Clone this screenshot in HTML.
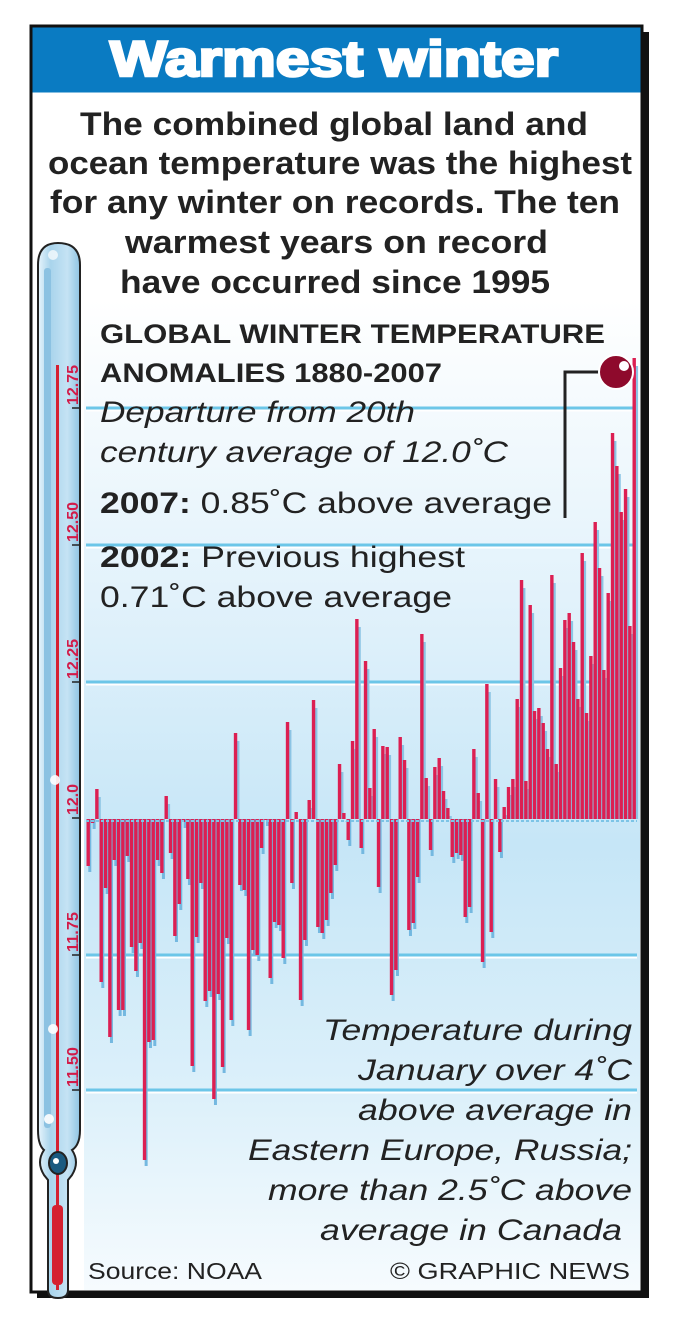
<!DOCTYPE html>
<html><head><meta charset="utf-8"><style>
html,body{margin:0;padding:0;background:#fff;}
svg{display:block;}
text{font-family:"Liberation Sans",Arial,sans-serif;}
</style></head><body>
<svg id="s" width="673" height="1323" viewBox="0 0 673 1323" xmlns="http://www.w3.org/2000/svg">
<defs>
<linearGradient id="bg" x1="0" y1="0" x2="0" y2="1">
<stop offset="0" stop-color="#ffffff"/>
<stop offset="0.3" stop-color="#e2f2fb"/>
<stop offset="0.55" stop-color="#c6e6f7"/>
<stop offset="0.8" stop-color="#dcf0fa"/>
<stop offset="1" stop-color="#f6fbfe"/>
</linearGradient>
<linearGradient id="tube" x1="0" y1="0" x2="1" y2="0">
<stop offset="0" stop-color="#e8f5fc"/>
<stop offset="0.3" stop-color="#a9d4ec"/>
<stop offset="0.7" stop-color="#c5e3f4"/>
<stop offset="1" stop-color="#8fc3e2"/>
</linearGradient>
</defs>
<rect x="37" y="32" width="612" height="1266" fill="#111"/>
<rect x="31" y="26" width="611" height="1266" fill="#fff" stroke="#111" stroke-width="3"/>
<rect x="84" y="300" width="556" height="990" fill="url(#bg)"/>
<rect x="32.5" y="27.5" width="608" height="65" fill="#0a7bc2"/>
<text x="110" y="76" font-size="50" font-weight="bold" fill="#fff" stroke="#fff" stroke-width="2.6" textLength="448" lengthAdjust="spacingAndGlyphs">Warmest winter</text>
<g font-weight="bold" font-size="32" fill="#222">
<text x="80" y="135" textLength="508" lengthAdjust="spacingAndGlyphs">The combined global land and</text>
<text x="48" y="174" textLength="584" lengthAdjust="spacingAndGlyphs">ocean temperature was the highest</text>
<text x="50" y="213" textLength="570" lengthAdjust="spacingAndGlyphs">for any winter on records. The ten</text>
<text x="125" y="253" textLength="423" lengthAdjust="spacingAndGlyphs">warmest years on record</text>
<text x="120" y="293" textLength="430" lengthAdjust="spacingAndGlyphs">have occurred since 1995</text>
</g>
<g id="grid"></g>
<g id="bars"></g>
<g fill="#222">
<text x="100" y="343" font-size="27" font-weight="bold" textLength="505" lengthAdjust="spacingAndGlyphs">GLOBAL WINTER TEMPERATURE</text>
<text x="100" y="382" font-size="27" font-weight="bold" textLength="342" lengthAdjust="spacingAndGlyphs">ANOMALIES 1880-2007</text>
<text x="100" y="422" font-size="30" font-style="italic" textLength="315" lengthAdjust="spacingAndGlyphs">Departure from 20th</text>
<text x="100" y="462" font-size="30" font-style="italic" textLength="408" lengthAdjust="spacingAndGlyphs">century average of 12.0˚C</text>
<text x="100" y="513" font-size="30" textLength="452" lengthAdjust="spacingAndGlyphs"><tspan font-weight="bold">2007:</tspan> 0.85˚C above average</text>
<text x="100" y="567" font-size="30" textLength="365" lengthAdjust="spacingAndGlyphs"><tspan font-weight="bold">2002:</tspan> Previous highest</text>
<text x="100" y="607" font-size="30" textLength="352" lengthAdjust="spacingAndGlyphs">0.71˚C above average</text>
<g font-size="30" font-style="italic" text-anchor="end">
<text x="632" y="1040" textLength="309" lengthAdjust="spacingAndGlyphs">Temperature during</text>
<text x="632" y="1080" textLength="274" lengthAdjust="spacingAndGlyphs">January over 4˚C</text>
<text x="632" y="1120" textLength="274" lengthAdjust="spacingAndGlyphs">above average in</text>
<text x="632" y="1160" textLength="384" lengthAdjust="spacingAndGlyphs">Eastern Europe, Russia;</text>
<text x="632" y="1200" textLength="364" lengthAdjust="spacingAndGlyphs">more than 2.5˚C above</text>
<text x="622" y="1240" textLength="302" lengthAdjust="spacingAndGlyphs">average in Canada</text>
</g>
<text x="88" y="1279" font-size="23" textLength="174" lengthAdjust="spacingAndGlyphs">Source: NOAA</text>
<text x="630" y="1279" font-size="23" text-anchor="end" textLength="240" lengthAdjust="spacingAndGlyphs">© GRAPHIC NEWS</text>
</g>
<polyline points="599,372 565,372 565,518" fill="none" stroke="#222" stroke-width="3"/>
<circle cx="616" cy="372" r="17" fill="#8e0a2c" stroke="#fff" stroke-width="2"/>
<circle cx="624" cy="366" r="5" fill="#fff"/>
<path d="M38,265 Q38,243 58,243 Q80,243 80,265 L80,1130 Q80,1145 72,1150 Q80,1162 72,1175 L68,1180 L68,1290 Q68,1298 58,1298 Q48,1298 48,1290 L48,1180 L44,1175 Q36,1162 44,1150 Q38,1145 38,1130 Z" fill="url(#tube)" stroke="#222" stroke-width="2"/>
<rect x="44" y="268" width="7" height="860" fill="#8cc2e2" rx="3"/>
<rect x="56" y="365" width="3" height="925" fill="#d52030"/>
<rect x="52" y="1205" width="11" height="80" fill="#d52030" rx="4"/>
<ellipse cx="58" cy="1163" rx="9" ry="11" fill="#1a5a80" stroke="#222" stroke-width="2"/>
<circle cx="56" cy="1161" r="3" fill="#fff"/>
<circle cx="55" cy="780" r="5" fill="#fff" opacity="0.9"/>
<circle cx="53" cy="1029" r="5" fill="#fff" opacity="0.9"/>
<circle cx="49" cy="1119" r="5" fill="#fff" opacity="0.9"/>
<circle cx="53" cy="255" r="5" fill="#fff" opacity="0.7"/>
<g fill="#d21a48" font-size="16" font-weight="bold">
<text transform="translate(78,405) rotate(-90)" textLength="40" lengthAdjust="spacingAndGlyphs">12.75</text>
<text transform="translate(78,542) rotate(-90)" textLength="40" lengthAdjust="spacingAndGlyphs">12.50</text>
<text transform="translate(78,679) rotate(-90)" textLength="40" lengthAdjust="spacingAndGlyphs">12.25</text>
<text transform="translate(78,815) rotate(-90)" textLength="31" lengthAdjust="spacingAndGlyphs">12.0</text>
<text transform="translate(78,952) rotate(-90)" textLength="40" lengthAdjust="spacingAndGlyphs">11.75</text>
<text transform="translate(78,1087) rotate(-90)" textLength="40" lengthAdjust="spacingAndGlyphs">11.50</text>
</g>
<g stroke="#222" stroke-width="1.5">
<line x1="72" y1="408" x2="80" y2="408"/><line x1="72" y1="545" x2="80" y2="545"/>
<line x1="72" y1="682" x2="80" y2="682"/><line x1="72" y1="818" x2="80" y2="818"/>
<line x1="72" y1="955" x2="80" y2="955"/><line x1="72" y1="1090" x2="80" y2="1090"/>
</g>
</svg>
<script>
var d=[866,823,789,982,888,1037,860,1010,1010,856,947,971,943,1160,1042,1040,860,873,796,853,936,904,822,879,1066,937,883,1001,991,1099,994,1067,
938,1020,733,885,890,1030,950,955,848,820,978,922,925,958,722,883,812,1000,940,800,700,927,933,920,893,865,764,813,840,741,619,
848,661,788,729,887,746,747,995,970,737,760,930,923,877,634,778,850,767,758,791,808,857,853,855,917,907,749,793,962,684,932,779,852,807,
787,779,699,580,781,605,711,708,723,749,575,764,668,620,613,642,699,553,713,656,522,568,670,593,433,466,512,489,626,358];
var NS="http://www.w3.org/2000/svg",Z=819;
function r(g,x,y,w,h,f){var e=document.createElementNS(NS,"rect");e.setAttribute("x",x);e.setAttribute("y",y);e.setAttribute("width",w);e.setAttribute("height",Math.max(h,0.5));e.setAttribute("fill",f);g.appendChild(e);}
var G=document.getElementById("grid");
[408,545,682,955,1090].forEach(function(y){r(G,86,y-1.5,551,3,"#6cc6e8");r(G,86,y+1.5,551,2,"#fff");});
var B=document.getElementById("bars");
var p=(634-88)/(d.length-1);
for(var i=0;i<d.length;i++){var x=88+i*p,y=d[i];
if(y<Z){r(B,x+1.3,y+8,2.8,Z-y-8,"#8cc4e4");r(B,x-1.5,y,3.4,Z-y,"#dc1f52");}
else{r(B,x+0.3,Z,3,y-Z+6,"#74b8e0");r(B,x-1.5,Z,3.4,y-Z,"#dc1f52");}}
var L=document.createElementNS(NS,"line");L.setAttribute("x1",86);L.setAttribute("x2",637);L.setAttribute("y1",821);L.setAttribute("y2",821);L.setAttribute("stroke","#7cc4e6");L.setAttribute("stroke-width","2");L.setAttribute("stroke-dasharray","3 2");B.appendChild(L);
</script>
</body></html>
